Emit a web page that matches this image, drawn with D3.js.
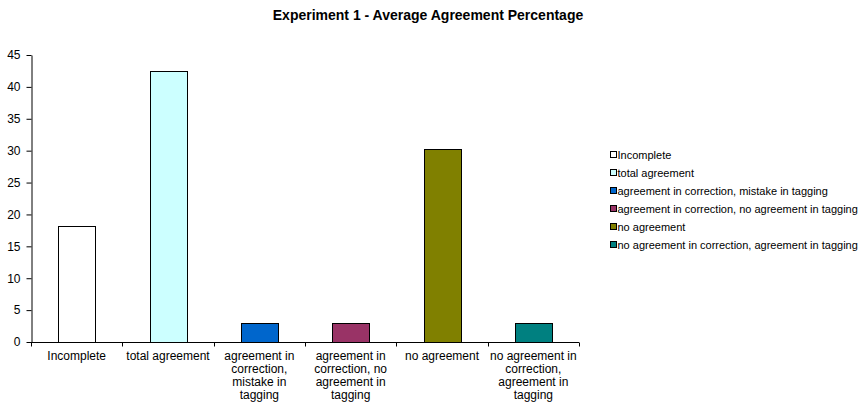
<!DOCTYPE html>
<html>
<head>
<meta charset="utf-8">
<script src="https://cdn.jsdelivr.net/npm/d3@7/dist/d3.min.js"></script>
<style>
  html, body { margin: 0; padding: 0; background: #fff; }
  svg { display: block; font-family: "Liberation Sans", Arial, sans-serif; }
</style>
</head>
<body>
<svg id="chart" width="862" height="403"></svg>
<script>
const categories = [
  "Incomplete",
  "total agreement",
  "agreement in correction, mistake in tagging",
  "agreement in correction, no agreement in tagging",
  "no agreement",
  "no agreement in correction, agreement in tagging"
];
const labelLines = [
  ["Incomplete"],
  ["total agreement"],
  ["agreement in", "correction,", "mistake in", "tagging"],
  ["agreement in", "correction, no", "agreement in", "tagging"],
  ["no agreement"],
  ["no agreement in", "correction,", "agreement in", "tagging"]
];
const values = [18.18, 42.42, 3.03, 3.03, 30.30, 3.03];
const colors = ["#FFFFFF", "#CCFFFF", "#0066CC", "#993366", "#808000", "#008080"];
const yTicks = [0, 5, 10, 15, 20, 25, 30, 35, 40, 45];
const title = "Experiment 1 - Average Agreement Percentage";

const svg = d3.select("#chart");
const mLeft = 31, mRight = 579, mTop = 55, mBottom = 342;

const x = d3.scaleBand().domain(categories).range([mLeft, mRight]).padding(0);
const y = d3.scaleLinear().domain([0, 45]).range([mBottom, mTop]);

svg.append("text")
  .attr("x", 428).attr("y", 20)
  .attr("text-anchor", "middle")
  .attr("font-size", "14px")
  .attr("font-weight", "bold")
  .text(title);

// bars
const bw = x.bandwidth();
svg.append("g").selectAll("rect")
  .data(categories)
  .join("rect")
  .attr("x", (d) => Math.round(x(d) + bw * 0.3) + 0.5)
  .attr("y", (d, i) => Math.round(y(values[i])) + 0.5)
  .attr("width", Math.round(bw * 0.4))
  .attr("height", (d, i) => Math.round(y(0)) - Math.round(y(values[i])))
  .attr("fill", (d, i) => colors[i])
  .attr("stroke", "#000")
  .attr("stroke-width", 1);

// y axis
const yAxis = svg.append("g")
  .attr("transform", `translate(${mLeft + 0.5},0)`)
  .call(d3.axisLeft(y).tickValues(yTicks).tickSize(5).tickPadding(6).tickSizeOuter(0));
yAxis.selectAll("text").attr("font-size", "12px").attr("fill", "#000")
  .style("font-family", "Liberation Sans, Arial, sans-serif");
yAxis.selectAll("line, path").attr("stroke", "#000");

// x axis
const xAxis = svg.append("g")
  .attr("transform", `translate(0,${mBottom + 0.5})`);
xAxis.append("line")
  .attr("x1", mLeft).attr("x2", mRight)
  .attr("stroke", "#000");
const boundaries = categories.map((c) => x(c)).concat([mRight]);
xAxis.selectAll("line.tick")
  .data(boundaries)
  .join("line")
  .attr("class", "tick")
  .attr("x1", (d) => Math.round(d) + 0.5).attr("x2", (d) => Math.round(d) + 0.5)
  .attr("y1", 0).attr("y2", 4)
  .attr("stroke", "#000");

const labels = xAxis.selectAll("text")
  .data(categories)
  .join("text")
  .attr("text-anchor", "middle")
  .attr("font-size", "12px")
  .attr("fill", "#000");
labels.each(function (d, i) {
  const t = d3.select(this);
  labelLines[i].forEach((ln, k) => {
    t.append("tspan")
      .attr("x", x(d) + bw / 2)
      .attr("y", 17 + k * 13.3)
      .text(ln);
  });
});

// legend
const lg = svg.append("g");
categories.forEach((c, i) => {
  const cy = 155 + i * 18;
  lg.append("rect")
    .attr("x", 610.5).attr("y", cy - 3.5)
    .attr("width", 6).attr("height", 6)
    .attr("fill", colors[i])
    .attr("stroke", "#000");
  lg.append("text")
    .attr("x", 617.5).attr("y", cy + 4)
    .attr("font-size", "11px")
    .attr("fill", "#000")
    .text(c);
});
</script>
</body>
</html>
